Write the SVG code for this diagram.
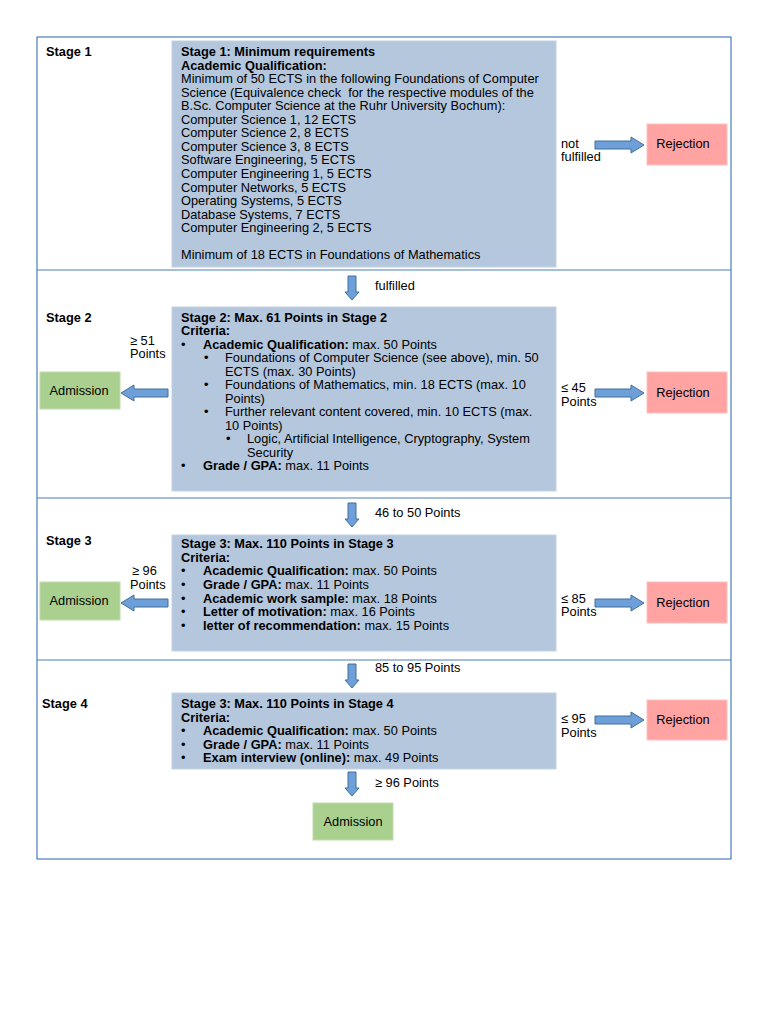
<svg xmlns="http://www.w3.org/2000/svg" width="768" height="1024" viewBox="0 0 768 1024">
<style>
text{font-family:"Liberation Sans",Arial,sans-serif;font-size:12.8px;fill:#000}
.b{font-weight:bold}
.c{text-anchor:middle}
.stage{fill:#b4c7dc;stroke:#c3d2e4;stroke-width:1}
.rej{fill:#ffa3a3;stroke:#ffc0c0;stroke-width:1}
.adm{fill:#a9d08e;stroke:#c0dcad;stroke-width:1}
.arr{fill:#6e9fd9;stroke:#41719c;stroke-width:1}
.frame{fill:none;stroke:#4a7ebb;stroke-width:1.2}
</style>
<rect width="768" height="1024" fill="#fff"/>
<g id="frame">
<rect class="frame" x="37" y="37" width="694" height="822"/>
<line class="frame" x1="37" y1="270" x2="731" y2="270"/>
<line class="frame" x1="37" y1="498" x2="731" y2="498"/>
<line class="frame" x1="37" y1="660" x2="731" y2="660"/>
<text class="b" x="46" y="56">Stage 1</text>
<text class="b" x="46" y="322">Stage 2</text>
<text class="b" x="46" y="545">Stage 3</text>
<text class="b" x="42" y="708">Stage 4</text>
</g>
<g id="stage1">
<rect class="stage" x="172" y="41" width="384" height="226"/>
<text x="181" y="56"><tspan class="b">Stage 1: Minimum requirements</tspan>
<tspan class="b" x="181" dy="13.55">Academic Qualification:</tspan>
<tspan x="181" dy="13.55">Minimum of 50 ECTS in the following Foundations of Computer</tspan>
<tspan x="181" dy="13.55">Science (Equivalence check&#160; for the respective modules of the</tspan>
<tspan x="181" dy="13.55">B.Sc. Computer Science at the Ruhr University Bochum):</tspan>
<tspan x="181" dy="13.55">Computer Science 1, 12 ECTS</tspan>
<tspan x="181" dy="13.55">Computer Science 2, 8 ECTS</tspan>
<tspan x="181" dy="13.55">Computer Science 3, 8 ECTS</tspan>
<tspan x="181" dy="13.55">Software Engineering, 5 ECTS</tspan>
<tspan x="181" dy="13.55">Computer Engineering 1, 5 ECTS</tspan>
<tspan x="181" dy="13.55">Computer Networks, 5 ECTS</tspan>
<tspan x="181" dy="13.55">Operating Systems, 5 ECTS</tspan>
<tspan x="181" dy="13.55">Database Systems, 7 ECTS</tspan>
<tspan x="181" dy="13.55">Computer Engineering 2, 5 ECTS</tspan>
<tspan x="181" dy="27.1">Minimum of 18 ECTS in Foundations of Mathematics</tspan></text>
</g>
<g id="rejection1">
<rect class="rej" x="647" y="124" width="80" height="41"/>
<text class="c" x="683" y="148">Rejection</text>
</g>
<g id="stage2">
<rect class="stage" x="172" y="307" width="384" height="184"/>
<text x="181" y="322"><tspan class="b">Stage 2: Max. 61 Points in Stage 2</tspan>
<tspan class="b" x="181" dy="13.45">Criteria:</tspan></text>
<text x="181" y="348.9">•</text>
<text x="203" y="348.9"><tspan class="b">Academic Qualification:</tspan> max. 50 Points</text>
<text x="204" y="362.4">•</text>
<text x="225" y="362.4">Foundations of Computer Science (see above), min. 50<tspan x="225" dy="13.45">ECTS (max. 30 Points)</tspan></text>
<text x="204" y="389.3">•</text>
<text x="225" y="389.3">Foundations of Mathematics, min. 18 ECTS (max. 10<tspan x="225" dy="13.45">Points)</tspan></text>
<text x="204" y="416.2">•</text>
<text x="225" y="416.2">Further relevant content covered, min. 10 ECTS (max.<tspan x="225" dy="13.45">10 Points)</tspan></text>
<text x="226" y="443.1">•</text>
<text x="247" y="443.1">Logic, Artificial Intelligence, Cryptography, System<tspan x="247" dy="13.45">Security</tspan></text>
<text x="181" y="470">•</text>
<text x="203" y="470"><tspan class="b">Grade / GPA:</tspan> max. 11 Points</text>
</g>
<g id="admission2">
<rect class="adm" x="40" y="372" width="80" height="37"/>
<text class="c" x="79" y="395">Admission</text>
</g>
<g id="rejection2">
<rect class="rej" x="647" y="372" width="80" height="41"/>
<text class="c" x="683" y="397">Rejection</text>
</g>
<g id="stage3">
<rect class="stage" x="172" y="535" width="384" height="116"/>
<text x="181" y="548"><tspan class="b">Stage 3: Max. 110 Points in Stage 3</tspan>
<tspan class="b" x="181" dy="13.6">Criteria:</tspan></text>
<text x="181" y="575.3">•<tspan x="181" dy="13.6">•</tspan><tspan x="181" dy="13.6">•</tspan><tspan x="181" dy="13.6">•</tspan><tspan x="181" dy="13.6">•</tspan></text>
<text x="203" y="575.3"><tspan class="b">Academic Qualification:</tspan> max. 50 Points</text>
<text x="203" y="588.9"><tspan class="b">Grade / GPA:</tspan> max. 11 Points</text>
<text x="203" y="602.5"><tspan class="b">Academic work sample:</tspan> max. 18 Points</text>
<text x="203" y="616.1"><tspan class="b">Letter of motivation:</tspan> max. 16 Points</text>
<text x="203" y="629.7"><tspan class="b">letter of recommendation:</tspan> max. 15 Points</text>
</g>
<g id="admission3">
<rect class="adm" x="40" y="582" width="80" height="38"/>
<text class="c" x="79" y="605">Admission</text>
</g>
<g id="rejection3">
<rect class="rej" x="647" y="582" width="80" height="41"/>
<text class="c" x="683" y="607">Rejection</text>
</g>
<g id="stage4">
<rect class="stage" x="172" y="693" width="384" height="76"/>
<text x="181" y="708"><tspan class="b">Stage 3: Max. 110 Points in Stage 4</tspan>
<tspan class="b" x="181" dy="13.5">Criteria:</tspan></text>
<text x="181" y="735">•<tspan x="181" dy="13.5">•</tspan><tspan x="181" dy="13.5">•</tspan></text>
<text x="203" y="735"><tspan class="b">Academic Qualification:</tspan> max. 50 Points</text>
<text x="203" y="748.5"><tspan class="b">Grade / GPA:</tspan> max. 11 Points</text>
<text x="203" y="762"><tspan class="b">Exam interview (online):</tspan> max. 49 Points</text>
</g>
<g id="rejection4">
<rect class="rej" x="647" y="700" width="80" height="40"/>
<text class="c" x="683" y="724">Rejection</text>
</g>
<g id="admission4">
<rect class="adm" x="313" y="803" width="80" height="37"/>
<text class="c" x="353" y="826">Admission</text>
</g>
<g id="connectors">
<path class="arr" d="M595,141 H631 V137 L644,145 L631,153 V149 H595 Z"/>
<text x="561" y="148">not</text><text x="561" y="161">fulfilled</text>
<path class="arr" d="M348,276 H356 V292 H359 L352,300 L345,292 H348 Z"/>
<text x="375" y="290">fulfilled</text>
<path class="arr" d="M168,389 H134 V385 L121,393 L134,401 V397 H168 Z"/>
<text x="130" y="345">≥ 51</text><text x="130" y="358">Points</text>
<path class="arr" d="M595,389 H631 V385 L644,393 L631,401 V397 H595 Z"/>
<text x="561" y="392">≤ 45</text><text x="561" y="406">Points</text>
<path class="arr" d="M348,503 H356 V519 H359 L352,527 L345,519 H348 Z"/>
<text x="375" y="517">46 to 50 Points</text>
<path class="arr" d="M168,599 H134 V595 L121,603 L134,611 V607 H168 Z"/>
<text x="132" y="575">≥ 96</text><text x="130" y="589">Points</text>
<path class="arr" d="M595,599 H631 V595 L644,603 L631,611 V607 H595 Z"/>
<text x="561" y="603">≤ 85</text><text x="561" y="616">Points</text>
<path class="arr" d="M348,664 H356 V680 H359 L352,688 L345,680 H348 Z"/>
<text x="375" y="672">85 to 95 Points</text>
<path class="arr" d="M595,716 H631 V712 L644,720 L631,728 V724 H595 Z"/>
<text x="561" y="723">≤ 95</text><text x="561" y="737">Points</text>
<path class="arr" d="M348,772 H356 V788 H359 L352,796 L345,788 H348 Z"/>
<text x="375" y="787">≥ 96 Points</text>
</g>
</svg>
